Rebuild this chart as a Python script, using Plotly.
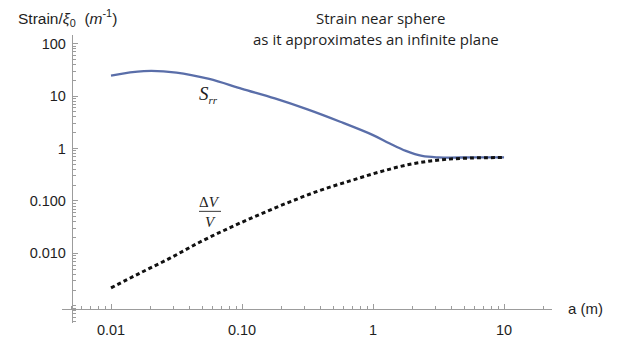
import plotly.graph_objects as go

# ---- data ----
srr_a = [0.01, 0.0178, 0.0316, 0.0562, 0.1, 0.178, 0.316, 0.562, 1.0, 1.33, 1.78, 2.37, 3.16, 5.62, 10]
srr_v = [24.6, 29.9, 28.1, 21.2, 13.7, 9.0, 5.56, 3.23, 1.80, 1.26, 0.90, 0.72, 0.677, 0.675, 0.675]

dv_a = [0.01, 0.0166, 0.0282, 0.0478, 0.081, 0.137, 0.232, 0.394, 0.667, 1.13, 1.92, 3.24, 5.5, 10]
dv_v = [0.0022, 0.0042, 0.0081, 0.0165, 0.031, 0.0556, 0.096, 0.159, 0.241, 0.359, 0.501, 0.605, 0.658, 0.671]

x_tickvals = [0.01, 0.1, 1, 10]
x_ticktext = ["0.01", "0.10", "1", "10"]
y_tickvals = [0.01, 0.1, 1, 10, 100]
y_ticktext = ["0.010", "0.100", "1", "10", "100"]

x_minor = [m * 10.0 ** e for e in (-3, -2, -1, 0) for m in range(2, 10)] + [20]
x_minor = [v for v in x_minor if v >= 0.005]
y_minor = [m * 10.0 ** e for e in (-4, -3, -2, -1, 0, 1) for m in range(2, 10)] + [0.001]
y_minor = [v for v in y_minor if v >= 0.0005]

AXC = "#9c9c9c"
TXT = "#1e1e1e"
SANS = "Liberation Sans, Arial, sans-serif"
SERIF = "Liberation Serif, Times New Roman, serif"

fig = go.Figure()
fig.add_trace(go.Scatter(x=srr_a, y=srr_v, mode="lines", line=dict(color="#5a6ea9", width=2.3, shape="spline", smoothing=1.0),
                         showlegend=False, hoverinfo="skip"))
fig.add_trace(go.Scatter(x=dv_a, y=dv_v, mode="lines", line=dict(color="#111111", width=3, dash="4px,3px", shape="spline"),
                         showlegend=False, hoverinfo="skip"))

axis_common = dict(
    type="log", showgrid=False, zeroline=False, showline=True, linecolor=AXC, linewidth=1.3,
    ticks="inside", ticklen=5, tickwidth=1, tickcolor=AXC,
    tickfont=dict(family=SANS, size=14.5, color=TXT),
)
fig.update_layout(
    width=624, height=350,
    margin=dict(l=62, r=72, t=35, b=13),
    paper_bgcolor="white", plot_bgcolor="white",
    xaxis=dict(range=[-2.374, 1.366], anchor="free", position=0.0487,
               tickmode="array", tickvals=x_tickvals, ticktext=x_ticktext,
               minor=dict(tickmode="array", tickvals=x_minor, ticks="inside", ticklen=3, tickcolor=AXC),
               ticklabelstandoff=7, **axis_common),
    yaxis=dict(range=[-3.327, 2.164], anchor="free", position=0.0204,
               tickmode="array", tickvals=y_tickvals, ticktext=y_ticktext,
               minor=dict(tickmode="array", tickvals=y_minor, ticks="inside", ticklen=3, tickcolor=AXC),
               ticklabelstandoff=3, **axis_common),
)

def px2paper(px, py):
    return (px - 62) / 490.0, (337 - py) / 302.0

annots = []
x0, y0 = px2paper(16, 17)
annots.append(dict(x=x0, y=y0, xref="paper", yref="paper", xanchor="left", yanchor="middle", showarrow=False,
                   text="Strain/<i>ξ</i><sub>0</sub>  (<i>m</i><sup>-1</sup>)",
                   font=dict(family=SANS, size=15.5, color=TXT)))
x1, y1 = px2paper(380, 17)
annots.append(dict(x=x1, y=y1, xref="paper", yref="paper", xanchor="center", yanchor="middle", showarrow=False,
                   text="Strain near sphere", font=dict(family="Open Sans", size=15, color=TXT)))
x2, y2 = px2paper(376, 39)
annots.append(dict(x=x2, y=y2, xref="paper", yref="paper", xanchor="center", yanchor="middle", showarrow=False,
                   text="as it approximates an infinite plane", font=dict(family="Open Sans", size=15, color=TXT)))
x3, y3 = px2paper(585, 322)
annots.append(dict(x=x3, y=y3, xref="paper", yref="paper", xanchor="center", yanchor="middle", showarrow=False,
                   text="a (m)", font=dict(family=SANS, size=15, color=TXT)))
x4, y4 = px2paper(208, 97)
annots.append(dict(x=x4, y=y4, xref="paper", yref="paper", xanchor="center", yanchor="middle", showarrow=False,
                   text="<i>S</i><sub><i><span style='font-size:11px'>rr</span></i></sub>",
                   font=dict(family=SERIF, size=19, color=TXT)))
x5, y5 = px2paper(209, 210)
annots.append(dict(x=x5, y=y5, xref="paper", yref="paper", xanchor="center", yanchor="middle", showarrow=False,
                   text="Δ<i>V</i>", font=dict(family=SERIF, size=15, color=TXT)))
x6, y6 = px2paper(210, 231)
annots.append(dict(x=x6, y=y6, xref="paper", yref="paper", xanchor="center", yanchor="middle", showarrow=False,
                   text="<i>V</i>", font=dict(family=SERIF, size=15, color=TXT)))
fig.update_layout(annotations=annots)

lx0, ly = px2paper(199, 220)
lx1, _ = px2paper(221, 220)
fig.add_shape(type="line", xref="paper", yref="paper", x0=lx0, x1=lx1, y0=ly, y1=ly,
              line=dict(color="#555555", width=1.2))

fig.write_html("out.html")
